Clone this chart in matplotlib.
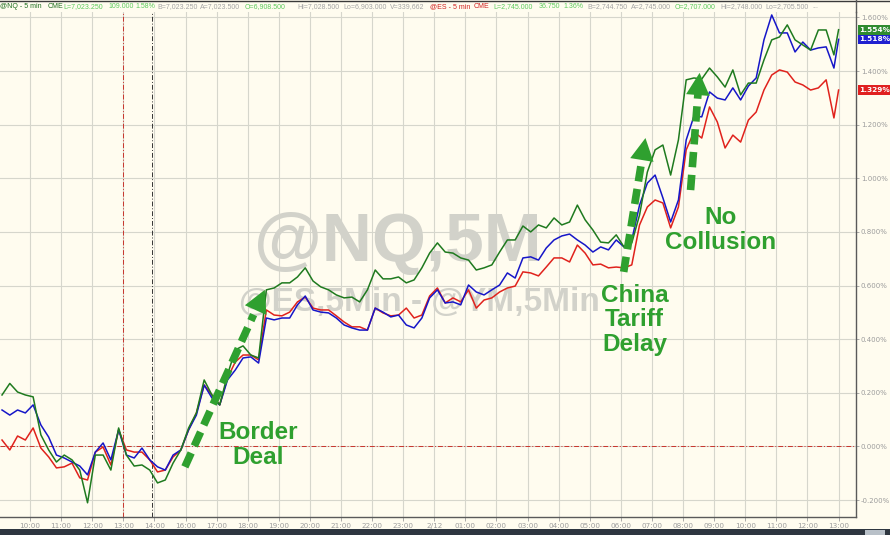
"""@NQ / @ES / @YM 5-min percent change chart (Bloomberg-style screenshot)."""

import numpy as np
import matplotlib
matplotlib.use("Agg")
import matplotlib.pyplot as plt
from matplotlib.lines import Line2D
from matplotlib.patches import Rectangle
from matplotlib.ticker import FuncFormatter
from matplotlib.transforms import blended_transform_factory

plt.rcParams["axes.unicode_minus"] = False

# ---- data -----------------------------------------------------------------
# x is in hour slots of the (gap-compressed) session axis, 10:00 on day one = 0
tick_labels = ["10:00", "11:00", "12:00", "13:00", "14:00", "16:00", "17:00",
               "18:00", "19:00", "20:00", "21:00", "22:00", "23:00", "2/12",
               "01:00", "02:00", "03:00", "04:00", "05:00", "06:00", "07:00",
               "08:00", "09:00", "10:00", "11:00", "12:00", "13:00"]
hours = np.append(-0.9 + 0.25 * np.arange(108), 26.0)

nq = [0.192, 0.235, 0.203, 0.192, 0.185, 0.043, -0.013, -0.058, -0.032, -0.050,
      -0.088, -0.210, -0.032, -0.032, -0.088, 0.069, -0.032, -0.073, -0.069, -0.088,
      -0.136, -0.125, -0.062, -0.013, 0.069, 0.125, 0.248, 0.192, 0.155, 0.267,
      0.360, 0.375, 0.341, 0.330, 0.584, 0.591, 0.610, 0.610, 0.632, 0.666,
      0.617, 0.595, 0.584, 0.565, 0.554, 0.557, 0.539, 0.584, 0.658, 0.625,
      0.625, 0.632, 0.610, 0.621, 0.666, 0.721, 0.759, 0.725, 0.721, 0.703,
      0.695, 0.658, 0.666, 0.677, 0.725, 0.770, 0.770, 0.822, 0.800, 0.826,
      0.815, 0.852, 0.826, 0.837, 0.900, 0.845, 0.807, 0.762, 0.759, 0.789,
      0.744, 0.759, 0.863, 1.023, 1.106, 1.124, 1.012, 1.143, 1.367, 1.374,
      1.370, 1.411, 1.378, 1.340, 1.404, 1.311, 1.355, 1.355, 1.441, 1.516,
      1.527, 1.572, 1.516, 1.497, 1.478, 1.553, 1.553, 1.460, 1.554]

ym = [0.136, 0.117, 0.136, 0.125, 0.155, 0.080, 0.035, -0.032, -0.043, -0.058,
      -0.073, -0.106, -0.021, 0.013, -0.050, 0.062, -0.032, -0.043, -0.006, -0.050,
      -0.076, -0.088, -0.032, -0.013, 0.062, 0.117, 0.229, 0.181, 0.155, 0.248,
      0.285, 0.330, 0.334, 0.311, 0.479, 0.472, 0.479, 0.479, 0.528, 0.561,
      0.509, 0.501, 0.498, 0.479, 0.453, 0.442, 0.434, 0.434, 0.516, 0.501,
      0.483, 0.490, 0.453, 0.442, 0.479, 0.554, 0.584, 0.535, 0.539, 0.528,
      0.602, 0.576, 0.565, 0.584, 0.602, 0.647, 0.628, 0.703, 0.707, 0.695,
      0.740, 0.770, 0.785, 0.792, 0.770, 0.751, 0.725, 0.744, 0.733, 0.770,
      0.744, 0.770, 0.900, 0.982, 1.012, 0.927, 0.837, 0.919, 1.143, 1.232,
      1.229, 1.322, 1.299, 1.292, 1.337, 1.292, 1.344, 1.374, 1.516, 1.609,
      1.542, 1.542, 1.471, 1.508, 1.478, 1.486, 1.490, 1.411, 1.518]

es = [0.024, -0.013, 0.039, 0.024, 0.069, -0.006, -0.039, -0.080, -0.076, -0.062,
      -0.117, -0.125, -0.021, -0.002, -0.069, 0.062, -0.013, -0.021, -0.021, -0.050,
      -0.095, -0.088, -0.039, -0.013, 0.062, 0.125, 0.229, 0.192, 0.155, 0.255,
      0.315, 0.341, 0.341, 0.323, 0.509, 0.490, 0.487, 0.501, 0.539, 0.557,
      0.516, 0.509, 0.509, 0.487, 0.464, 0.446, 0.446, 0.434, 0.516, 0.498,
      0.487, 0.490, 0.516, 0.479, 0.490, 0.561, 0.591, 0.535, 0.554, 0.539,
      0.584, 0.516, 0.546, 0.554, 0.576, 0.591, 0.598, 0.651, 0.647, 0.636,
      0.669, 0.703, 0.703, 0.688, 0.751, 0.721, 0.677, 0.680, 0.666, 0.669,
      0.666, 0.677, 0.826, 0.893, 0.919, 0.908, 0.815, 0.893, 1.106, 1.173,
      1.150, 1.266, 1.210, 1.113, 1.161, 1.135, 1.217, 1.247, 1.329, 1.385,
      1.404, 1.396, 1.359, 1.348, 1.329, 1.337, 1.367, 1.225, 1.329]

y_ticks = [-0.2, 0.0, 0.2, 0.4, 0.6, 0.8, 1.0, 1.2, 1.4, 1.6]

# header quote strip: (text, colour key)
header = [
    ("@NQ - 5 min", "dk"), ("CME", "dk"), ("L=7,023.250", "lt"), ("109.000", "lt"),
    ("1.58%", "lt"), ("B=7,023.250", "gr"), ("A=7,023.500", "gr"), ("O=6,908.500", "lt"),
    ("Hi=7,028.500", "gr"), ("Lo=6,903.000", "gr"), ("V=339,662", "gr"),
    ("@ES - 5 min", "rd"), ("CME", "rd"), ("L=2,745.000", "lt"), ("36.750", "lt"),
    ("1.36%", "lt"), ("B=2,744.750", "gr"), ("A=2,745.000", "gr"), ("O=2,707.000", "lt"),
    ("Hi=2,748.000", "gr"), ("Lo=2,705.500", "gr"), ("...", "gr"),
]
header_x = [0, 48, 63, 108, 135, 157, 200, 245, 297, 343, 390,
            430, 474, 493, 539, 563, 587, 631, 675, 720, 765, 812]

# ---- style ----------------------------------------------------------------
BG = "#fffcef"
GREEN = "#1f7a1f"
BLUE = "#1616c8"
RED = "#e0221c"
ANNOT = "#2fa02f"
TICK = "#9c9c9c"
W, H = 890, 535

fig = plt.figure(figsize=(W / 100, H / 100), dpi=100)
fig.patch.set_facecolor(BG)
ax = fig.add_axes([0, 18 / H, 856 / W, 505 / H])
ax.set_facecolor(BG)
ax.set_xlim(-0.965, 26.56)
ax.set_ylim(-0.263, 1.620)

ax.grid(True, color="#d6d6cc", lw=0.8)
ax.set_axisbelow(True)
ax.set_xticks(range(len(tick_labels)))
ax.set_xticklabels(tick_labels)
ax.set_yticks(y_ticks)
ax.yaxis.tick_right()
ax.yaxis.set_major_formatter(FuncFormatter(lambda v, _: f"{v:.3f}%"))
ax.tick_params(axis="both", colors=TICK, labelsize=5.2, length=3, width=0.6, pad=1.5)
ax.tick_params(axis="y", labelsize=5.0, length=2.5, pad=1.0)
for side in ("top", "left"):
    ax.spines[side].set_visible(False)
for side in ("right", "bottom"):
    ax.spines[side].set_color("#5a5a5a")
    ax.spines[side].set_linewidth(1.0)

# reference lines
ax.axhline(0, color="#c8342c", lw=0.7, ls=(0, (5, 2, 1, 2)), zorder=1)
ax.axvline(3.0, color="#c8342c", lw=0.7, ls=(0, (5, 2, 1, 2)), zorder=1)
ax.axvline(3.93, color="#333333", lw=0.7, ls=(0, (5, 2, 1, 2)), zorder=1)

# watermark
ax.text(0.465, 0.543, "@NQ,5M", transform=ax.transAxes, ha="center", va="center",
        fontsize=50, fontweight="bold", family="Liberation Sans", color="#d2d2ca", zorder=1)
ax.text(0.49, 0.424, "@ES,5Min - @YM,5Min", transform=ax.transAxes, ha="center",
        va="center", fontsize=24, fontweight="bold", family="Liberation Sans",
        color="#d2d2ca", zorder=1)

# series
ax.plot(hours, es, color=RED, lw=1.1, zorder=3)
ax.plot(hours, ym, color=BLUE, lw=1.1, zorder=3)
ax.plot(hours, nq, color=GREEN, lw=1.1, zorder=3)

# last-value tags on the right axis
tag_tr = blended_transform_factory(ax.transAxes, ax.transData)
for vals, col in ((nq, "#2e8b2e"), (ym, "#2020d0"), (es, "#e02020")):
    ax.text(1.004, vals[-1], f"{vals[-1]:.3f}%", transform=tag_tr, color="white",
            fontsize=5.3, fontweight="bold", va="center", ha="left", clip_on=False,
            bbox=dict(boxstyle="square,pad=0.25", fc=col, ec="none"), zorder=6)


def dashed_arrow(base, tip, t_head):
    """Thick dashed shaft with a solid head, in data coordinates."""
    hx = base[0] + t_head * (tip[0] - base[0])
    hy = base[1] + t_head * (tip[1] - base[1])
    ax.plot([base[0], hx], [base[1], hy], color=ANNOT, lw=5.5, dashes=(2.0, 1.0),
            solid_capstyle="butt", dash_capstyle="butt", zorder=5)
    ax.annotate("", xy=tip, xytext=(hx, hy), zorder=5,
                arrowprops=dict(arrowstyle="-|>,head_length=1.6,head_width=0.85",
                                color=ANNOT, lw=0, shrinkA=0, shrinkB=0))


dashed_arrow((4.98, -0.076), (7.55, 0.584), 0.86)
dashed_arrow((19.09, 0.651), (19.79, 1.150), 0.82)
dashed_arrow((21.24, 0.956), (21.53, 1.393), 0.83)

lbl = dict(ha="center", va="center", fontsize=17.5, fontweight="bold",
           family="Liberation Sans", color=ANNOT, linespacing=1.1, zorder=6)
ax.text(7.33, 0.006, "Border\nDeal", **lbl)
ax.text(19.44, 0.472, "China\nTariff\nDelay", **lbl)
ax.text(22.22, 0.807, "No\nCollusion", **lbl)

# header strip, frame bits and bottom bar
cols = {"dk": "#1e6e1e", "lt": "#5ccb5c", "gr": "#a4a4a4", "rd": "#d02020"}
for x, (txt, key) in zip(header_x, header):
    fig.text(x / W, 1 - 6.5 / H, txt, fontsize=5.0, family="Liberation Sans",
             color=cols[key], va="center", ha="left")
fig.add_artist(Line2D([0, 1], [1 - 0.5 / H] * 2, transform=fig.transFigure,
                      color="#3a3a3a", lw=1.0))
fig.add_artist(Line2D([856 / W] * 2, [1 - 12 / H, 1], transform=fig.transFigure,
                      color="#5a5a5a", lw=1.0))
fig.add_artist(Rectangle((0, 0), 1, 6 / H, transform=fig.transFigure,
                         color="#2e3640", lw=0))
fig.add_artist(Rectangle((865 / W, 0), 20 / W, 5 / H, transform=fig.transFigure,
                         color="#b8c0c8", lw=0))

fig.savefig("out.png", dpi=100, facecolor=BG)
